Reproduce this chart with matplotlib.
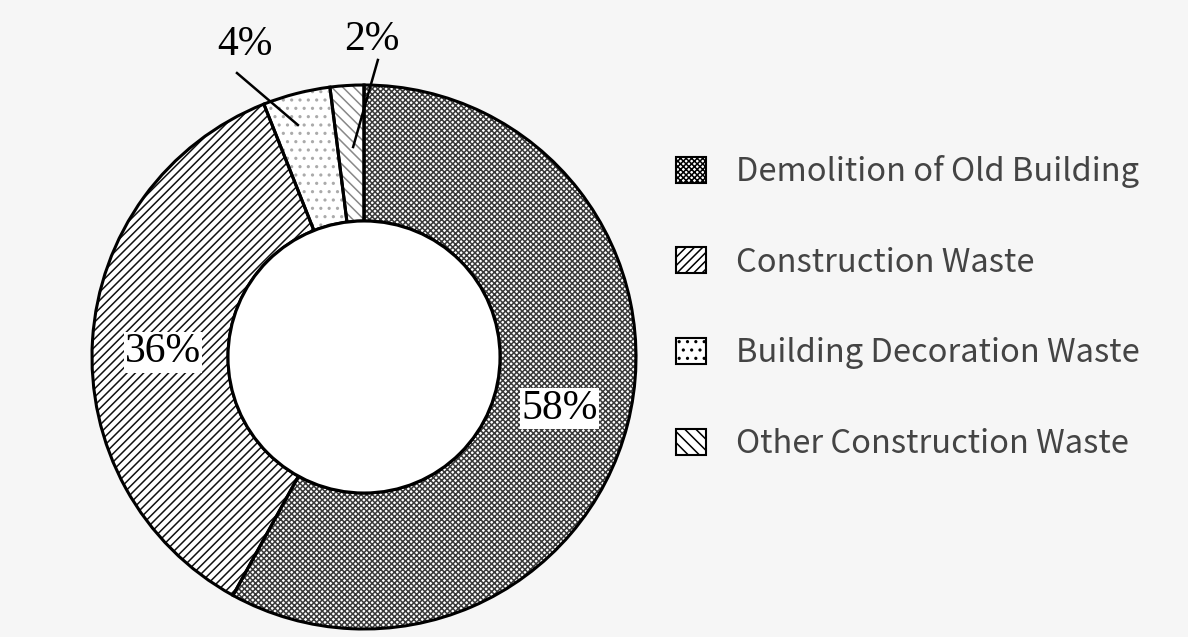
import matplotlib.pyplot as plt
from matplotlib.patches import Patch, Circle

# data
categories = ['Demolition of Old Building', 'Construction Waste',
              'Building Decoration Waste', 'Other Construction Waste']
shares = [58, 36, 4, 2]
pct_labels = ['58%', '36%', '4%', '2%']

hatches = ['xxxxxx', '////', '..', '\\\\\\']
hatch_cols = ['#3a3a3a', '#111111', '#aaaaaa', '#888888']

plt.rcParams['hatch.linewidth'] = 1.1

fig = plt.figure(figsize=(11.88, 6.37), dpi=100, facecolor='#f6f6f6')
ax = fig.add_axes([0.0774, 0.01256, 0.458, 0.854])
ax.set_facecolor('#f6f6f6')

# hatched fills
wedges, _ = ax.pie(shares, startangle=90, counterclock=False, radius=1.0,
                   wedgeprops=dict(width=0.5, linewidth=0, facecolor='white'))
for w, h, c in zip(wedges, hatches, hatch_cols):
    w.set_hatch(h)
    w.set_edgecolor(c)
# outlines
ax.pie(shares, startangle=90, counterclock=False, radius=1.0,
       wedgeprops=dict(width=0.5, linewidth=2.2, edgecolor='black', fill=False))
ax.add_patch(Circle((0, 0), 0.5, facecolor='white', edgecolor='black', lw=2.2))

ax.set_xlim(-1, 1)
ax.set_ylim(-1, 1)
ax.set_aspect('equal')
ax.axis('off')

serif = 'Liberation Serif'
box = dict(facecolor='white', edgecolor='none', pad=1)
ax.text(0.72, -0.19, pct_labels[0], fontsize=30, family=serif, ha='center', va='center', bbox=box)
ax.text(-0.739, 0.018, pct_labels[1], fontsize=30, family=serif, ha='center', va='center', bbox=box)
ax.text(-0.4375, 1.147, pct_labels[2], fontsize=30, family=serif, ha='center', va='center', clip_on=False)
ax.text(0.029, 1.165, pct_labels[3], fontsize=30, family=serif, ha='center', va='center', clip_on=False)
ax.plot([-0.467, -0.243], [1.044, 0.853], color='black', lw=1.8, clip_on=False)
ax.plot([0.051, -0.040], [1.092, 0.772], color='black', lw=1.8, clip_on=False)

handles = [Patch(facecolor='white', edgecolor='black', hatch=h, lw=1.5) for h in hatches]
leg = fig.legend(handles, categories, loc='upper left', bbox_to_anchor=(0.5446, 0.803),
                 frameon=False, prop={'family': 'Noto Sans CJK SC', 'size': 23.5},
                 handlelength=0.9, handleheight=0.85, handletextpad=0.92, labelspacing=1.8)
for t in leg.get_texts():
    t.set_color('#444444')

fig.savefig('out.png', dpi=100, facecolor=fig.get_facecolor())
